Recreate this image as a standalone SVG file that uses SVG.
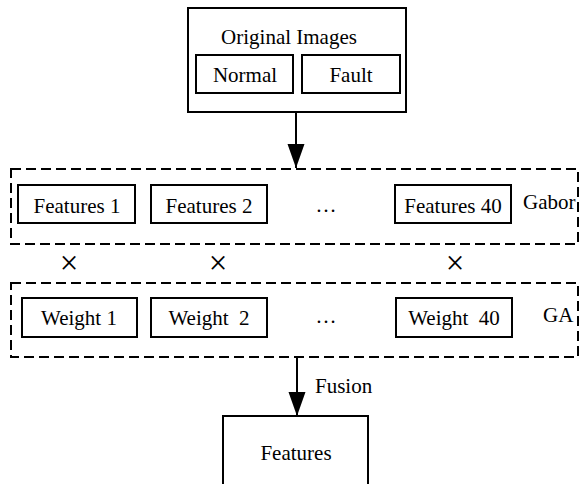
<svg xmlns="http://www.w3.org/2000/svg" width="582" height="484" viewBox="0 0 582 484">
<style>
.box{fill:#fff;stroke:#000;stroke-width:2}
.dash{fill:none;stroke:#000;stroke-width:2;stroke-dasharray:10 5}
.t{font-family:"Liberation Serif","Times New Roman",serif;font-size:21px;fill:#000;text-anchor:middle}
.l{text-anchor:start}
.x{font-size:33px}
.edge{stroke:#000;stroke-width:2;fill:none}
</style>
<defs>
<marker id="ah" markerUnits="userSpaceOnUse" markerWidth="25" markerHeight="18" refX="24" refY="8.5" orient="auto">
<path d="M0,0 L24,8.5 L0,17 z" fill="#000"/>
</marker>
</defs>
<rect width="582" height="484" fill="#fff"/>
<g id="original">
<rect class="box" x="188" y="8" width="218" height="104"/>
<text class="t" x="289" y="44">Original Images</text>
</g>
<g id="normal">
<rect class="box" x="196" y="55" width="97" height="38"/>
<text class="t" x="245" y="82">Normal</text>
</g>
<g id="fault">
<rect class="box" x="302" y="55" width="98" height="38"/>
<text class="t" x="351" y="82">Fault</text>
</g>
<g id="gabor">
<rect class="dash" x="11" y="169" width="567" height="75"/>
<text class="t l" x="523" y="209">Gabor</text>
</g>
<g id="features1">
<rect class="box" x="18" y="185" width="117" height="38"/>
<text class="t" x="77" y="213">Features 1</text>
</g>
<g id="features2">
<rect class="box" x="151" y="185" width="116" height="38"/>
<text class="t" x="209" y="213">Features 2</text>
</g>
<text class="t" x="326" y="212">…</text>
<g id="features40">
<rect class="box" x="395" y="185" width="116" height="38"/>
<text class="t" x="453" y="213">Features 40</text>
</g>
<text class="t x" x="69" y="274">×</text>
<text class="t x" x="218" y="274">×</text>
<text class="t x" x="455" y="274">×</text>
<g id="ga">
<rect class="dash" x="11" y="283" width="567" height="74"/>
<text class="t l" x="543" y="322">GA</text>
</g>
<g id="weight1">
<rect class="box" x="22" y="298" width="115" height="39"/>
<text class="t" x="79" y="325">Weight 1</text>
</g>
<g id="weight2">
<rect class="box" x="151" y="298" width="116" height="39"/>
<text class="t" x="209" y="325" xml:space="preserve">Weight  2</text>
</g>
<text class="t" x="326" y="323">…</text>
<g id="weight40">
<rect class="box" x="396" y="298" width="116" height="39"/>
<text class="t" x="454" y="325" xml:space="preserve">Weight  40</text>
</g>
<g id="features">
<rect class="box" x="223" y="416" width="145" height="80"/>
<text class="t" x="296" y="460">Features</text>
</g>
<g id="connectors">
<line class="edge" x1="296" y1="112" x2="296" y2="168" marker-end="url(#ah)"/>
<line class="edge" x1="297" y1="357" x2="297" y2="416" marker-end="url(#ah)"/>
<text class="t l" x="315" y="393">Fusion</text>
</g>
</svg>
